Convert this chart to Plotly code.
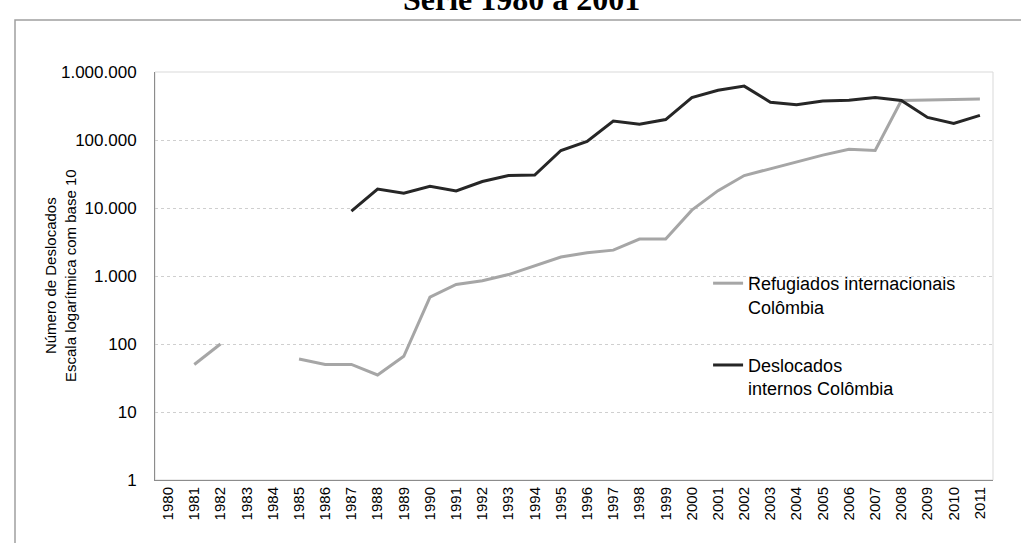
import plotly.graph_objects as go

years = [str(y) for y in range(1980, 2012)]

refugiados = [None, 50, 100, None, None, 60, 50, 50, 35, 66,
              490, 750, 850, 1050, 1400, 1900, 2200, 2400, 3500, 3500,
              9300, 18000, 30000, 38000, 48000, 60000, 73000, 70000, 380000, 390000,
              395000, 400000]

deslocados = [None, None, None, None, None, None, None, 9000, 19000, 16500,
              20800, 17800, 24500, 30000, 30500, 70000, 95000, 190000, 170000, 200000,
              420000, 540000, 620000, 360000, 330000, 375000, 385000, 420000, 380000, 215000,
              175000, 230000]

ytick_vals = [1, 10, 100, 1000, 10000, 100000, 1000000]
ytick_text = ["1", "10", "100", "1.000", "10.000", "100.000", "1.000.000"]

names = ["Refugiados internacionais<br>Colômbia", "Deslocados<br>internos Colômbia"]

FONT = "Liberation Sans, Arial, sans-serif"

fig = go.Figure()
fig.add_trace(go.Scatter(x=years, y=refugiados, mode="lines", name=names[0],
                         line=dict(color="#A6A6A6", width=3), connectgaps=False,
                         legendgroup="a"))
fig.add_trace(go.Scatter(x=years, y=deslocados, mode="lines", name=names[1],
                         line=dict(color="#262626", width=3), connectgaps=False,
                         legendgroup="b"))

L, R, T, B = 155, 28, 72, 63
W, H = 1021, 543
pw, ph = W - L - R, H - T - B

fig.update_layout(
    width=W, height=H,
    margin=dict(l=L, r=R, t=T, b=B),
    paper_bgcolor="white", plot_bgcolor="white",
    font=dict(family=FONT, size=14, color="#000000"),
    showlegend=True,
    legend=dict(x=0.660, y=0.527, xanchor="left", yanchor="top",
                font=dict(family=FONT, size=18, color="#000000"),
                tracegroupgap=32, valign="top", itemwidth=30,
                bgcolor="rgba(0,0,0,0)"),
    xaxis=dict(type="category", tickangle=-90, showgrid=False,
               showline=True, linecolor="#8C8C8C", linewidth=1,
               ticks="", tickfont=dict(family=FONT, size=15, color="#000000"),
               range=[-0.5, 31.5]),
    yaxis=dict(type="log", range=[0, 6], tickvals=ytick_vals, ticktext=ytick_text,
               showgrid=True, gridcolor="#CFCFCF", griddash="dot", gridwidth=1,
               showline=True, linecolor="#8C8C8C", linewidth=1, ticks="",
               tickfont=dict(family=FONT, size=17, color="#000000"),
               zeroline=False, ticklabelstandoff=14),
)

# plot area border (light grey, top and right)
fig.add_shape(type="rect", xref="paper", yref="paper", x0=0, y0=0, x1=1, y1=1,
              line=dict(color="#D9D9D9", width=1), layer="below")

# outer chart frame
fig.add_shape(type="rect", xref="paper", yref="paper",
              x0=(15 - L) / pw, y0=-0.5, x1=1.2, y1=(H - B - 20) / ph,
              line=dict(color="#A0A0A0", width=1.5), layer="below")

# y axis title (two lines)
fig.add_annotation(xref="paper", yref="paper", x=(60 - L) / pw, y=0.5,
                   text="Número de Deslocados<br>Escala logarítmica com base 10",
                   textangle=-90, showarrow=False, xanchor="center", yanchor="middle",
                   font=dict(family=FONT, size=15, color="#000000"))

# title (partially cut at the top)
fig.add_annotation(xref="paper", yref="paper", x=(521 - L) / pw, y=(H - B - 19) / ph,
                   text="<b>Série 1980 a 2001</b>", showarrow=False,
                   xanchor="center", yanchor="bottom",
                   font=dict(family="Liberation Serif, Times New Roman, serif", size=32,
                             color="#000000"))

fig.write_html("out.html", config={"displayModeBar": False},
               post_script="document.body.style.margin='0';")
